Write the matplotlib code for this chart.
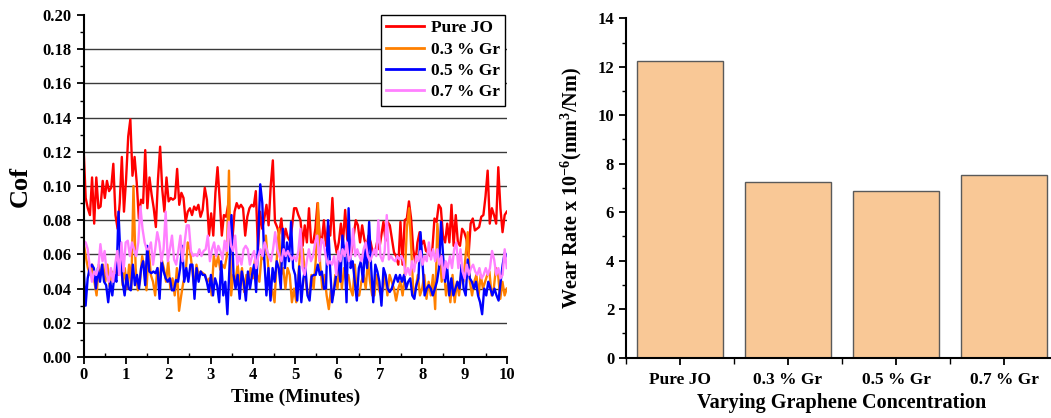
import numpy as np
import matplotlib
matplotlib.use("Agg")
import matplotlib.pyplot as plt
from matplotlib.ticker import MultipleLocator

plt.rcParams['font.family'] = ['Liberation Serif', 'DejaVu Serif']
plt.rcParams['font.weight'] = 'bold'
plt.rcParams['mathtext.fontset'] = 'custom'
plt.rcParams['mathtext.rm'] = 'Liberation Serif:bold'
plt.rcParams['mathtext.bf'] = 'Liberation Serif:bold'

# coefficient of friction over the 10 minute run
cof_pure = [
    0.123, 0.093, 0.087, 0.083, 0.105, 0.078, 0.105, 0.087, 0.088, 0.103, 0.093, 0.103, 0.097, 0.099, 0.113, 0.083,
    0.075, 0.090, 0.117, 0.085, 0.104, 0.129, 0.139, 0.106, 0.117, 0.102, 0.081, 0.092, 0.090, 0.121, 0.087, 0.105,
    0.095, 0.087, 0.076, 0.104, 0.123, 0.098, 0.085, 0.105, 0.091, 0.093, 0.092, 0.093, 0.110, 0.089, 0.096, 0.093,
    0.079,
    0.085, 0.087, 0.083, 0.088, 0.086, 0.089, 0.082, 0.086, 0.099, 0.092, 0.071, 0.084, 0.071, 0.096, 0.111, 0.092,
    0.071, 0.083, 0.082, 0.089, 0.075, 0.069, 0.085, 0.090, 0.087, 0.089, 0.087, 0.071, 0.082, 0.087, 0.089, 0.088,
    0.097, 0.063, 0.085, 0.075, 0.081, 0.089, 0.077, 0.100, 0.115, 0.079, 0.076, 0.072, 0.081, 0.067, 0.075, 0.070,
    0.068, 0.076, 0.087,
    0.087, 0.083, 0.080, 0.065, 0.077, 0.067, 0.087, 0.067, 0.067, 0.075, 0.090, 0.071, 0.067, 0.080, 0.065, 0.077,
    0.071, 0.093, 0.069, 0.061, 0.067, 0.078, 0.067, 0.086, 0.069, 0.066, 0.061, 0.071, 0.080, 0.077, 0.067, 0.077,
    0.069, 0.064, 0.071, 0.067, 0.061, 0.061, 0.067, 0.063, 0.071, 0.079, 0.068, 0.079, 0.077, 0.069, 0.061, 0.059,
    0.054, 0.079,
    0.054, 0.080, 0.081, 0.091, 0.081, 0.063, 0.055, 0.067, 0.073, 0.066, 0.068, 0.062, 0.061, 0.059, 0.063, 0.081,
    0.079, 0.089, 0.087, 0.071, 0.067, 0.078, 0.067, 0.089, 0.065, 0.083, 0.067, 0.065, 0.075, 0.073, 0.069, 0.059,
    0.078, 0.081, 0.074, 0.075, 0.076, 0.082, 0.083, 0.094, 0.109, 0.078, 0.087, 0.083, 0.078, 0.111, 0.087, 0.073,
    0.083, 0.085,
]
cof_gr03 = [
    0.067, 0.059, 0.052, 0.048, 0.054, 0.044, 0.036, 0.054, 0.048, 0.054, 0.044, 0.054, 0.041, 0.050, 0.048, 0.052,
    0.048, 0.067, 0.042, 0.052, 0.040, 0.054, 0.040, 0.100, 0.052, 0.039, 0.044, 0.059, 0.052, 0.039, 0.063, 0.048,
    0.044, 0.036, 0.052, 0.044, 0.057, 0.052, 0.044, 0.056, 0.040, 0.046, 0.036, 0.052, 0.027, 0.036, 0.044, 0.048,
    0.067,
    0.063, 0.052, 0.040, 0.054, 0.048, 0.050, 0.049, 0.048, 0.044, 0.046, 0.036, 0.059, 0.053, 0.059, 0.051, 0.054,
    0.052, 0.059, 0.109, 0.036, 0.048, 0.044, 0.054, 0.042, 0.052, 0.038, 0.048, 0.044, 0.052, 0.046, 0.057, 0.048,
    0.044, 0.059, 0.057, 0.071, 0.054, 0.040, 0.039, 0.032, 0.057, 0.075, 0.048, 0.052, 0.040, 0.052, 0.048, 0.032,
    0.040, 0.032, 0.048, 0.065, 0.063, 0.048, 0.038, 0.036, 0.048, 0.040, 0.057, 0.090, 0.054, 0.040, 0.048, 0.036,
    0.028, 0.040, 0.036, 0.048, 0.040, 0.056, 0.040, 0.052, 0.044, 0.048, 0.040, 0.036, 0.054, 0.036, 0.036, 0.044,
    0.048, 0.040, 0.056, 0.044, 0.036, 0.036, 0.048, 0.040, 0.036, 0.040, 0.048, 0.036, 0.048, 0.044, 0.040, 0.033,
    0.040,
    0.044, 0.036, 0.048, 0.076, 0.087, 0.063, 0.036, 0.040, 0.048, 0.036, 0.040, 0.048, 0.034, 0.044, 0.036, 0.048,
    0.028, 0.078, 0.063, 0.044, 0.052, 0.036, 0.044, 0.032, 0.048, 0.032, 0.044, 0.036, 0.048, 0.044, 0.059, 0.073,
    0.044, 0.036, 0.044, 0.048, 0.036, 0.048, 0.040, 0.044, 0.048, 0.050, 0.036, 0.040, 0.052, 0.048, 0.034, 0.044,
    0.036, 0.040,
]
cof_gr05 = [
    0.054, 0.030, 0.046, 0.052, 0.054, 0.052, 0.040, 0.052, 0.044, 0.054, 0.044, 0.042, 0.032, 0.044, 0.036, 0.048,
    0.044, 0.085, 0.057, 0.044, 0.036, 0.048, 0.040, 0.039, 0.054, 0.042, 0.048, 0.040, 0.052, 0.056, 0.042, 0.065,
    0.050, 0.049, 0.050, 0.049, 0.052, 0.034, 0.056, 0.050, 0.046, 0.044, 0.046, 0.039, 0.039, 0.045, 0.044, 0.052,
    0.065, 0.044, 0.052, 0.044, 0.054,
    0.054, 0.034, 0.052, 0.044, 0.050, 0.048, 0.048, 0.044, 0.038, 0.048, 0.036, 0.046, 0.042, 0.032, 0.056, 0.036,
    0.044, 0.025, 0.052, 0.083, 0.048, 0.040, 0.048, 0.034, 0.050, 0.044, 0.033, 0.050, 0.040, 0.048, 0.054, 0.038,
    0.069, 0.101, 0.090, 0.056, 0.036, 0.052, 0.033, 0.052, 0.044, 0.056, 0.052, 0.040, 0.075, 0.052, 0.067, 0.056,
    0.079, 0.052, 0.048, 0.033,
    0.053, 0.032, 0.046, 0.052, 0.036, 0.033, 0.047, 0.048, 0.048, 0.054, 0.048, 0.050, 0.040, 0.040, 0.080, 0.052,
    0.032, 0.040, 0.048, 0.056, 0.044, 0.071, 0.061, 0.032, 0.087, 0.052, 0.056, 0.044, 0.033, 0.052, 0.056, 0.044,
    0.063, 0.052, 0.079, 0.052, 0.032, 0.054, 0.050, 0.044, 0.030, 0.052, 0.048, 0.040, 0.038, 0.040, 0.044, 0.048,
    0.044, 0.048, 0.044,
    0.048, 0.040, 0.044, 0.046, 0.036, 0.034, 0.042, 0.046, 0.073, 0.054, 0.036, 0.040, 0.042, 0.040, 0.036, 0.040,
    0.044, 0.052, 0.079, 0.059, 0.044, 0.052, 0.036, 0.046, 0.036, 0.040, 0.044, 0.040, 0.054, 0.040, 0.036, 0.057,
    0.046, 0.044, 0.040, 0.044, 0.036, 0.032, 0.025, 0.040, 0.036, 0.044, 0.040, 0.036, 0.040, 0.036, 0.033, 0.044,
    0.054, 0.061, 0.059,
]
cof_gr07 = [
    0.068, 0.067, 0.063, 0.052, 0.044, 0.050, 0.048, 0.052, 0.066, 0.056, 0.062, 0.048, 0.044, 0.052, 0.044, 0.054,
    0.062, 0.048, 0.067, 0.050, 0.067, 0.068, 0.059, 0.067, 0.063, 0.059, 0.067, 0.088, 0.075, 0.067, 0.063, 0.063,
    0.067, 0.054, 0.063, 0.073, 0.067, 0.056, 0.063, 0.085, 0.056, 0.063, 0.071, 0.057, 0.054, 0.062, 0.071, 0.056,
    0.067, 0.077,
    0.077, 0.062, 0.059, 0.060, 0.059, 0.063, 0.059, 0.062, 0.063, 0.071, 0.056, 0.063, 0.067, 0.059, 0.065, 0.062,
    0.057, 0.068, 0.062, 0.079, 0.065, 0.062, 0.071, 0.054, 0.059, 0.054, 0.063, 0.065, 0.063, 0.054, 0.059, 0.062,
    0.052, 0.059, 0.063, 0.059, 0.067, 0.063, 0.059, 0.056, 0.063, 0.073, 0.063, 0.059, 0.056, 0.063, 0.059, 0.062,
    0.059, 0.057,
    0.059, 0.056, 0.062, 0.075, 0.052, 0.048, 0.056, 0.063, 0.056, 0.059, 0.067, 0.071, 0.056, 0.069, 0.067, 0.059,
    0.054, 0.056, 0.054, 0.059, 0.048, 0.062, 0.056, 0.063, 0.059, 0.067, 0.056, 0.059, 0.075, 0.059, 0.063, 0.059,
    0.056, 0.063, 0.067, 0.059, 0.056, 0.059, 0.063, 0.059, 0.080, 0.059, 0.056, 0.062, 0.083, 0.057, 0.059, 0.057,
    0.056, 0.059, 0.057,
    0.059, 0.056, 0.048, 0.052, 0.048, 0.056, 0.050, 0.059, 0.056, 0.062, 0.054, 0.059, 0.056, 0.067, 0.057, 0.063,
    0.056, 0.063, 0.054, 0.059, 0.046, 0.056, 0.052, 0.059, 0.052, 0.063, 0.067, 0.052, 0.063, 0.050, 0.046, 0.054,
    0.048, 0.052, 0.054, 0.050, 0.048, 0.052, 0.046, 0.048, 0.052, 0.048, 0.052, 0.062, 0.057, 0.048, 0.052, 0.046,
    0.048, 0.063, 0.052,
]
series_labels = ['Pure JO', '0.3 % Gr', '0.5 % Gr', '0.7 % Gr']
series_colors = ['#ff0000', '#ff8000', '#0000ff', '#ff80ff']

# wear rate bars
bar_labels = ['Pure JO', '0.3 % Gr', '0.5 % Gr', '0.7 % Gr']
wear_rate = [12.25, 7.26, 6.89, 7.55]

fig = plt.figure(figsize=(10.51, 4.18), dpi=100)

# ---- left: friction coefficient vs time ----
ax1 = fig.add_axes([0.0795, 0.146, 0.4027, 0.818])
for vals, lab, col in zip([cof_pure, cof_gr03, cof_gr05, cof_gr07], series_labels, series_colors):
    t = np.linspace(0, 10, len(vals))
    ax1.plot(t, vals, color=col, lw=1.7, label=lab)

ax1.set_xlim(0, 10)
ax1.set_ylim(0, 0.20)
ax1.set_yticks(np.arange(0, 0.201, 0.02))
ax1.set_yticklabels([f'{v:.2f}' for v in np.arange(0, 0.201, 0.02)])
ax1.set_xticks(range(0, 11))
ax1.yaxis.set_minor_locator(MultipleLocator(0.01))
ax1.xaxis.set_minor_locator(MultipleLocator(0.5))
for y in np.arange(0.02, 0.19, 0.02):
    ax1.axhline(y, color='#3a3a3a', lw=1.0, zorder=0)
ax1.spines['top'].set_visible(False)
ax1.spines['right'].set_visible(False)
for s in ['left', 'bottom']:
    ax1.spines[s].set_linewidth(1.5)
ax1.tick_params(axis='y', which='major', direction='out', length=5, width=1.3, labelsize=12)
ax1.tick_params(axis='y', which='minor', direction='out', length=3, width=1.0)
ax1.tick_params(axis='x', which='major', direction='out', length=5, width=1.3, labelsize=12, pad=2)
ax1.tick_params(axis='x', which='minor', direction='in', length=3, width=1.0)
ax1.set_xlabel('Time (Minutes)', fontsize=14, fontweight='bold', labelpad=4)
ax1.set_ylabel('Cof', fontsize=19, fontweight='bold', labelpad=8)

leg = ax1.legend(loc='upper right', bbox_to_anchor=(0.996, 1.0), fontsize=12.5, frameon=True,
                 fancybox=False, edgecolor='black', framealpha=1, handlelength=2.2,
                 borderpad=0.3, labelspacing=0.3, handletextpad=0.4, borderaxespad=0)
leg.get_frame().set_linewidth(1.0)
for line in leg.get_lines():
    line.set_linewidth(2.0)

# ---- right: wear rate bars ----
ax2 = fig.add_axes([0.5956, 0.1443, 0.411, 0.812])
x = np.arange(len(bar_labels))
ax2.bar(x, wear_rate, width=0.8, color='#f9c896', edgecolor='#5a5a5a', linewidth=1.0)
ax2.set_xlim(-0.5, 3.5)
ax2.set_ylim(0, 14)
ax2.set_yticks(range(0, 15, 2))
ax2.yaxis.set_minor_locator(MultipleLocator(1))
ax2.set_xticks(x)
ax2.set_xticklabels(bar_labels)
ax2.set_xticks(np.arange(-0.5, 3.6, 1), minor=True)
ax2.spines['top'].set_visible(False)
ax2.spines['right'].set_visible(False)
for s in ['left', 'bottom']:
    ax2.spines[s].set_linewidth(1.5)
ax2.tick_params(axis='y', which='major', direction='out', length=5, width=1.3, labelsize=12)
ax2.tick_params(axis='y', which='minor', direction='out', length=3, width=1.0)
ax2.tick_params(axis='x', which='major', direction='out', length=5, width=1.3, labelsize=12.5, pad=5)
ax2.tick_params(axis='x', which='minor', direction='out', length=4, width=1.0)
ax2.set_xlabel('Varying Graphene Concentration', fontsize=14.5, fontweight='bold', labelpad=4)
ax2.set_ylabel(r'Wear Rate x 10$^{\mathbf{-6}}$(mm$^{\mathbf{3}}$/Nm)', fontsize=14.5,
               fontweight='bold', labelpad=10)

fig.savefig('out.png', dpi=100)
